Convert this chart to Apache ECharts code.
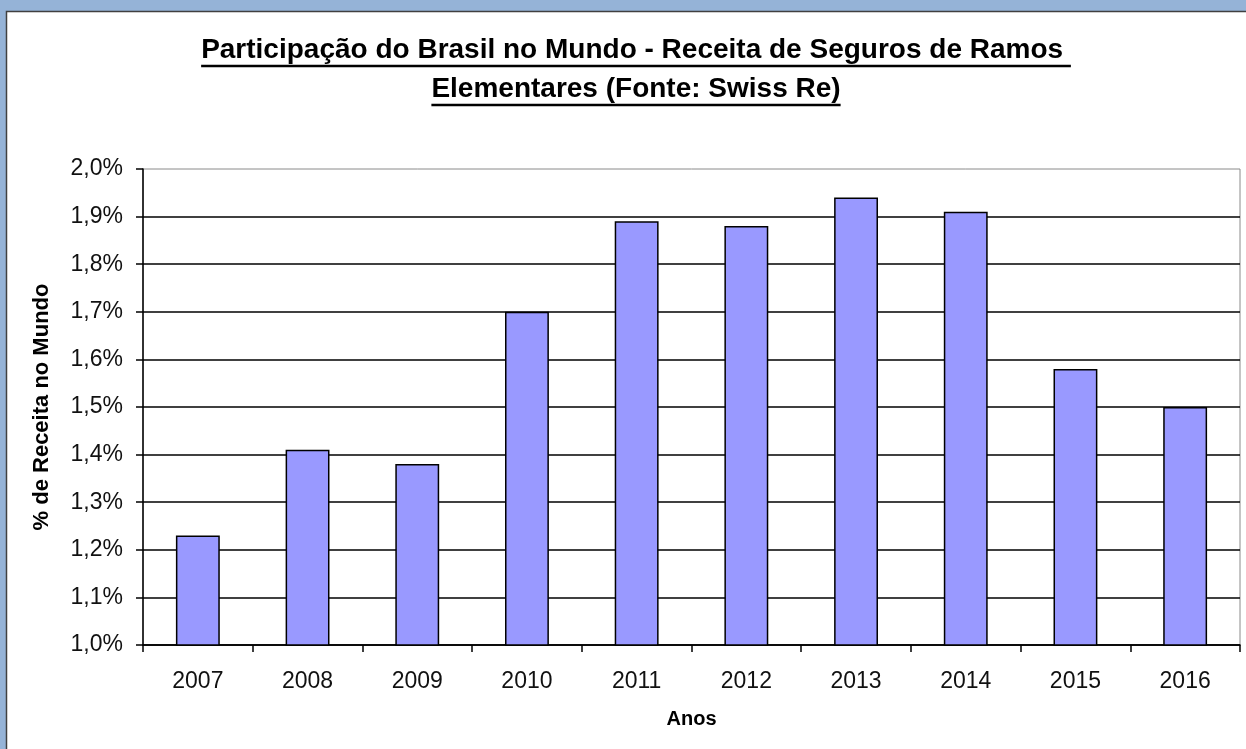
<!DOCTYPE html>
<html lang="pt">
<head>
<meta charset="UTF-8">
<title>Participação do Brasil no Mundo</title>
<script src="https://cdn.jsdelivr.net/npm/echarts@6/dist/echarts.min.js"></script>
<style>
    html, body { margin: 0; padding: 0; background: #95b3d7; }
    #container { width: 1246px; height: 749px; }
</style>
</head>
<body>
<div id="container"></div>
<script type="text/javascript">
    // dados
    const anos = ['2007','2008','2009','2010','2011','2012','2013','2014','2015','2016'];
    const participacao = [1.23, 1.41, 1.38, 1.70, 1.89, 1.88, 1.94, 1.91, 1.58, 1.50];
    const tituloLinhas = [
        'Participação do Brasil no Mundo - Receita de Seguros de Ramos ',
        'Elementares (Fonte: Swiss Re)'
    ];

    const FONT = '"Liberation Sans", Arial, sans-serif';
    const titleSize = 28;
    const titleCx = 636;
    const titleTops = [36, 75];

    // largura do texto para sublinhar
    function textWidth(txt, size) {
        const c = document.createElement('canvas').getContext('2d');
        c.font = 'bold ' + size + 'px ' + FONT;
        return c.measureText(txt).width;
    }

    const underlines = tituloLinhas.map(function (t, i) {
        const w = textWidth(t, titleSize);
        const y = titleTops[i] + 30;
        return {
            type: 'line',
            shape: { x1: titleCx - w / 2, y1: y, x2: titleCx + w / 2, y2: y },
            style: { stroke: '#000', lineWidth: 2.5 },
            z: 10
        };
    });

    const dom = document.getElementById('container');
    const myChart = echarts.init(dom, null, { renderer: 'canvas' });

    const option = {
        animation: false,
        backgroundColor: '#95b3d7',
        textStyle: { fontFamily: FONT },
        graphic: [
            {
                type: 'rect',
                shape: { x: 6.5, y: 11.5, width: 1260, height: 760 },
                style: { fill: '#fff', stroke: '#404040', lineWidth: 1.5 },
                z: -10
            }
        ].concat(underlines),
        title: tituloLinhas.map(function (t, i) {
            return {
                text: t,
                left: titleCx,
                top: titleTops[i],
                textAlign: 'center',
                padding: 0,
                textStyle: { fontFamily: FONT, fontSize: titleSize, fontWeight: 'bold', color: '#000' }
            };
        }),
        grid: {
            left: 143, top: 169, right: 6, bottom: 104,
            show: true, borderColor: '#8a8a8a', borderWidth: 1, backgroundColor: 'transparent'
        },
        xAxis: {
            type: 'category',
            data: anos,
            name: 'Anos',
            nameLocation: 'middle',
            nameGap: 64,
            nameTextStyle: { fontFamily: FONT, fontSize: 20, fontWeight: 'bold', color: '#000', verticalAlign: 'top' },
            axisLine: { lineStyle: { color: '#000', width: 1.5 } },
            axisTick: { show: true, length: 7, alignWithLabel: false, lineStyle: { color: '#000', width: 1.5 } },
            axisLabel: { margin: 25, fontSize: 23, color: '#111', fontFamily: FONT },
            splitLine: { show: false }
        },
        yAxis: {
            type: 'value',
            min: 1.0,
            max: 2.0,
            interval: 0.1,
            name: '% de Receita no Mundo',
            nameLocation: 'middle',
            nameGap: 90,
            nameTextStyle: { fontFamily: FONT, fontSize: 22, fontWeight: 'bold', color: '#000' },
            axisLine: { show: true, lineStyle: { color: '#000', width: 1.5 } },
            axisTick: { show: true, length: 7, lineStyle: { color: '#000', width: 1.5 } },
            axisLabel: {
                margin: 20,
                fontSize: 23,
                color: '#111',
                fontFamily: FONT,
                formatter: function (v) { return v.toFixed(1).replace('.', ',') + '%'; }
            },
            splitLine: { show: true, showMaxLine: false, lineStyle: { color: '#000', width: 1.5 } }
        },
        series: [
            {
                name: 'Participação',
                type: 'bar',
                data: participacao,
                barWidth: '40%',
                itemStyle: { color: '#9999ff', borderColor: '#000', borderWidth: 1.5 }
            }
        ]
    };

    myChart.setOption(option);
    window.addEventListener('resize', myChart.resize);
</script>
</body>
</html>
